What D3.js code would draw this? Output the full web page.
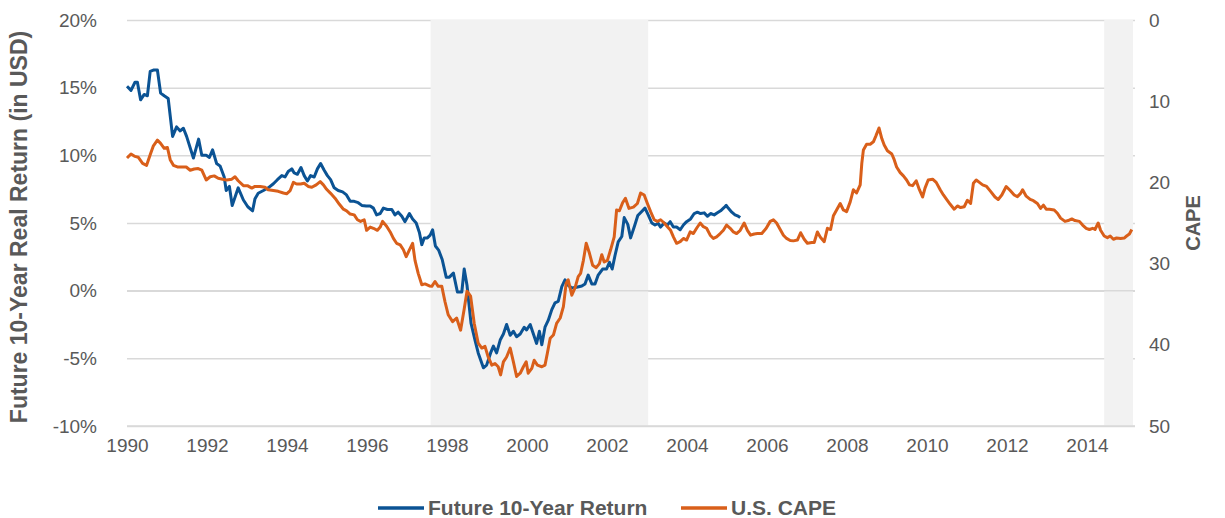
<!DOCTYPE html>
<html>
<head>
<meta charset="utf-8">
<script src="https://cdn.jsdelivr.net/npm/d3@7"></script>
<style>
  body { margin: 0; background: #fff; }
  svg { display: block; font-family: "Liberation Sans", Arial, sans-serif; }
</style>
</head>
<body>
<div id="chart"></div>
<script>
// Future 10-year real return (%), [year, value]
const returnSeries = [
  [1990.00, 15.1], [1990.10, 14.8], [1990.20, 15.4], [1990.26, 15.4], [1990.34, 14.1],
  [1990.43, 14.5], [1990.51, 14.4], [1990.58, 16.2], [1990.66, 16.3], [1990.76, 16.3],
  [1990.84, 14.6], [1990.93, 14.4], [1991.03, 14.2], [1991.14, 11.4], [1991.24, 12.1],
  [1991.33, 11.8], [1991.41, 12.0], [1991.49, 11.4], [1991.66, 9.8], [1991.79, 11.2],
  [1991.87, 10.0], [1991.98, 10.0], [1992.06, 9.85], [1992.14, 10.4], [1992.24, 9.4],
  [1992.33, 9.2], [1992.43, 8.4], [1992.48, 7.4], [1992.56, 7.7], [1992.63, 6.3],
  [1992.70, 6.9], [1992.78, 7.6], [1992.91, 6.7], [1993.02, 6.2], [1993.14, 5.9],
  [1993.20, 6.8], [1993.28, 7.2], [1993.41, 7.4], [1993.53, 7.6], [1993.66, 7.9],
  [1993.76, 8.2], [1993.87, 8.5], [1993.95, 8.4], [1994.03, 8.8], [1994.12, 9.0],
  [1994.18, 8.7], [1994.26, 8.6], [1994.35, 9.1], [1994.43, 8.5], [1994.51, 8.1],
  [1994.59, 8.5], [1994.68, 8.4], [1994.76, 9.0], [1994.84, 9.4], [1994.93, 8.9],
  [1995.01, 8.5], [1995.09, 8.2], [1995.18, 7.6], [1995.28, 7.4], [1995.39, 7.3],
  [1995.48, 7.1], [1995.58, 6.6], [1995.68, 6.6], [1995.78, 6.5], [1995.87, 6.3],
  [1995.98, 6.25], [1996.08, 6.25], [1996.16, 6.1], [1996.24, 5.6], [1996.33, 5.7],
  [1996.41, 6.1], [1996.51, 6.0], [1996.62, 6.0], [1996.70, 5.6], [1996.78, 5.8],
  [1996.87, 5.5], [1996.95, 5.1], [1997.06, 5.7], [1997.14, 5.3], [1997.23, 5.0],
  [1997.31, 4.3], [1997.37, 3.4], [1997.43, 3.9], [1997.51, 3.9], [1997.58, 4.1],
  [1997.64, 4.5], [1997.71, 3.3], [1997.79, 3.0], [1997.88, 2.3], [1997.98, 1.0],
  [1998.06, 1.0], [1998.16, 1.3], [1998.26, -0.1], [1998.37, -0.1], [1998.43, 1.6],
  [1998.50, 0.4], [1998.60, -2.4], [1998.70, -3.65], [1998.78, -4.6], [1998.91, -5.7],
  [1998.99, -5.5], [1999.09, -4.6], [1999.16, -4.1], [1999.24, -4.6], [1999.33, -3.65],
  [1999.41, -3.2], [1999.49, -2.5], [1999.58, -3.3], [1999.66, -3.0], [1999.74, -3.4],
  [1999.83, -3.2], [1999.93, -2.7], [1999.99, -2.9], [2000.08, -2.5], [2000.16, -3.2],
  [2000.24, -3.9], [2000.31, -3.0], [2000.37, -4.0], [2000.45, -2.7], [2000.53, -2.2],
  [2000.62, -1.4], [2000.70, -0.9], [2000.78, -0.8], [2000.87, 0.3], [2000.95, 0.8],
  [2001.03, 0.4], [2001.12, 0.2], [2001.24, 0.25], [2001.37, 0.35], [2001.45, 0.5],
  [2001.53, 1.15], [2001.62, 0.5], [2001.70, 0.5], [2001.78, 1.15], [2001.89, 1.6],
  [2001.99, 1.6], [2002.06, 2.1], [2002.13, 1.6], [2002.20, 2.6], [2002.28, 3.6],
  [2002.37, 4.0], [2002.43, 5.4], [2002.52, 4.9], [2002.59, 3.9], [2002.69, 4.8],
  [2002.77, 5.55], [2002.85, 5.8], [2002.95, 6.1], [2003.03, 5.6], [2003.12, 5.0],
  [2003.20, 4.85], [2003.28, 4.97], [2003.34, 4.7], [2003.43, 5.0], [2003.51, 4.85],
  [2003.58, 5.1], [2003.66, 4.7], [2003.74, 4.7], [2003.83, 4.5], [2003.91, 4.85],
  [2003.99, 5.1], [2004.09, 5.3], [2004.18, 5.7], [2004.26, 5.8], [2004.34, 5.7],
  [2004.43, 5.75], [2004.51, 5.5], [2004.59, 5.7], [2004.68, 5.6], [2004.76, 5.75],
  [2004.84, 5.9], [2004.93, 6.15], [2004.98, 6.3], [2005.03, 6.1], [2005.12, 5.8],
  [2005.20, 5.6], [2005.28, 5.5], [2005.33, 5.4]
];

// U.S. CAPE ratio, [year, value]
const capeSeries = [
  [1990.00, 17.0], [1990.10, 16.5], [1990.20, 16.8], [1990.28, 16.9], [1990.39, 17.65],
  [1990.49, 17.9], [1990.58, 16.6], [1990.66, 15.5], [1990.76, 14.8], [1990.84, 15.2],
  [1990.93, 15.8], [1991.01, 15.7], [1991.08, 17.2], [1991.16, 17.9], [1991.26, 18.1],
  [1991.37, 18.1], [1991.48, 18.1], [1991.58, 18.5], [1991.68, 18.35], [1991.78, 18.3],
  [1991.87, 18.5], [1991.98, 19.7], [1992.08, 19.3], [1992.18, 19.2], [1992.28, 19.5],
  [1992.39, 19.6], [1992.49, 19.7], [1992.62, 19.6], [1992.70, 19.3], [1992.78, 19.8],
  [1992.91, 20.4], [1993.01, 20.4], [1993.12, 20.7], [1993.20, 20.5], [1993.33, 20.5],
  [1993.45, 20.6], [1993.53, 20.9], [1993.66, 21.0], [1993.78, 21.1], [1993.91, 21.3],
  [1993.99, 21.4], [1994.08, 21.0], [1994.16, 20.0], [1994.24, 20.2], [1994.34, 20.2],
  [1994.43, 20.1], [1994.53, 20.5], [1994.62, 20.6], [1994.73, 20.3], [1994.83, 19.9],
  [1994.91, 20.3], [1994.99, 20.85], [1995.09, 21.35], [1995.20, 21.95], [1995.31, 22.7],
  [1995.41, 23.3], [1995.49, 23.5], [1995.58, 23.9], [1995.68, 24.0], [1995.76, 24.6],
  [1995.84, 24.8], [1995.93, 24.6], [1995.99, 25.9], [1996.08, 25.5], [1996.16, 25.65],
  [1996.26, 25.9], [1996.33, 25.5], [1996.39, 24.8], [1996.49, 25.4], [1996.58, 26.1],
  [1996.66, 26.9], [1996.74, 27.5], [1996.83, 27.7], [1996.91, 28.3], [1996.98, 29.15],
  [1997.06, 28.3], [1997.14, 27.5], [1997.20, 29.6], [1997.28, 31.2], [1997.37, 32.6],
  [1997.45, 32.5], [1997.56, 32.75], [1997.62, 32.8], [1997.70, 32.2], [1997.78, 32.8],
  [1997.87, 32.8], [1997.95, 34.7], [1998.03, 36.3], [1998.14, 37.15], [1998.24, 36.7],
  [1998.34, 38.2], [1998.43, 35.6], [1998.50, 33.4], [1998.59, 34.0], [1998.68, 37.35],
  [1998.78, 39.8], [1998.87, 40.4], [1998.95, 40.2], [1999.03, 41.5], [1999.12, 42.5],
  [1999.20, 42.3], [1999.28, 42.7], [1999.34, 43.7], [1999.41, 42.1], [1999.49, 41.5],
  [1999.58, 40.4], [1999.66, 42.1], [1999.74, 43.9], [1999.83, 43.5], [1999.91, 42.7],
  [1999.98, 42.1], [2000.03, 43.5], [2000.12, 42.9], [2000.18, 41.9], [2000.26, 42.5],
  [2000.37, 42.7], [2000.45, 42.5], [2000.51, 41.0], [2000.58, 39.2], [2000.66, 38.8],
  [2000.74, 37.35], [2000.83, 36.7], [2000.91, 35.3], [2000.98, 32.4], [2001.03, 32.0],
  [2001.12, 33.9], [2001.20, 33.0], [2001.28, 31.6], [2001.34, 31.2], [2001.41, 29.6],
  [2001.48, 27.5], [2001.56, 28.7], [2001.64, 30.2], [2001.73, 30.5], [2001.81, 30.0],
  [2001.87, 28.9], [2001.93, 29.8], [2002.01, 29.6], [2002.09, 28.3], [2002.18, 26.7],
  [2002.24, 23.4], [2002.31, 23.5], [2002.39, 22.5], [2002.46, 21.95], [2002.55, 23.2],
  [2002.66, 23.05], [2002.76, 22.6], [2002.84, 21.3], [2002.93, 21.55], [2003.01, 22.6],
  [2003.09, 23.6], [2003.18, 24.6], [2003.26, 24.8], [2003.34, 24.6], [2003.43, 25.0],
  [2003.51, 25.45], [2003.59, 25.9], [2003.66, 26.7], [2003.74, 27.5], [2003.83, 27.3],
  [2003.91, 26.9], [2003.99, 27.1], [2004.08, 26.1], [2004.16, 26.3], [2004.24, 25.65],
  [2004.33, 25.0], [2004.41, 25.45], [2004.49, 25.65], [2004.58, 26.5], [2004.66, 26.9],
  [2004.74, 26.7], [2004.83, 26.3], [2004.91, 25.9], [2004.99, 25.25], [2005.08, 25.65],
  [2005.16, 26.1], [2005.24, 26.3], [2005.33, 25.9], [2005.43, 25.0], [2005.51, 25.9],
  [2005.59, 26.5], [2005.68, 26.35], [2005.76, 26.3], [2005.87, 26.3], [2005.98, 25.65],
  [2006.08, 24.8], [2006.16, 24.6], [2006.24, 25.0], [2006.33, 25.8], [2006.41, 26.5],
  [2006.49, 26.9], [2006.58, 27.15], [2006.66, 27.2], [2006.76, 27.1], [2006.84, 26.2],
  [2006.93, 27.0], [2007.01, 27.5], [2007.12, 27.4], [2007.18, 27.4], [2007.26, 26.1],
  [2007.34, 26.8], [2007.43, 27.3], [2007.51, 25.65], [2007.59, 25.8], [2007.66, 24.1],
  [2007.74, 23.4], [2007.83, 22.6], [2007.91, 23.4], [2007.99, 23.6], [2008.08, 22.4],
  [2008.16, 20.9], [2008.24, 21.3], [2008.33, 20.3], [2008.37, 17.65], [2008.41, 16.0],
  [2008.49, 15.3], [2008.58, 15.3], [2008.66, 15.0], [2008.72, 14.3], [2008.80, 13.3],
  [2008.87, 14.6], [2008.93, 15.4], [2009.01, 16.1], [2009.12, 16.5], [2009.18, 17.2],
  [2009.24, 18.1], [2009.33, 18.8], [2009.41, 19.2], [2009.49, 19.7], [2009.56, 20.3],
  [2009.64, 20.4], [2009.73, 19.8], [2009.81, 20.9], [2009.89, 21.8], [2009.95, 20.7],
  [2010.03, 19.7], [2010.14, 19.6], [2010.23, 20.0], [2010.33, 20.9], [2010.41, 21.55],
  [2010.49, 22.1], [2010.58, 22.7], [2010.68, 23.3], [2010.76, 22.9], [2010.84, 23.1],
  [2010.93, 23.0], [2011.01, 22.2], [2011.09, 22.6], [2011.16, 20.1], [2011.23, 19.7],
  [2011.31, 20.0], [2011.39, 20.3], [2011.49, 20.5], [2011.59, 21.1], [2011.70, 21.8],
  [2011.78, 22.1], [2011.87, 21.55], [2011.98, 20.5], [2012.08, 21.0], [2012.18, 21.55],
  [2012.26, 21.75], [2012.34, 21.35], [2012.39, 20.9], [2012.48, 21.7], [2012.58, 22.1],
  [2012.66, 22.25], [2012.76, 22.6], [2012.84, 23.2], [2012.91, 22.8], [2012.98, 23.3],
  [2013.06, 23.3], [2013.18, 23.4], [2013.26, 23.8], [2013.34, 24.4], [2013.45, 24.8],
  [2013.53, 24.7], [2013.62, 24.5], [2013.70, 24.7], [2013.81, 24.8], [2013.89, 25.25],
  [2013.98, 25.65], [2014.06, 25.8], [2014.14, 25.65], [2014.20, 25.8], [2014.28, 25.0],
  [2014.34, 25.9], [2014.43, 26.6], [2014.51, 26.8], [2014.58, 26.6], [2014.66, 27.0],
  [2014.74, 26.85], [2014.84, 26.9], [2014.93, 26.85], [2014.99, 26.6], [2015.06, 26.35],
  [2015.12, 25.8]
];

// shaded periods [start, end]
const shadedPeriods = [[1997.59, 2003.03], [2014.43, 2015.15]];

const xTicks = d3.range(1990, 2015, 2);
const leftTicks = [-10, -5, 0, 5, 10, 15, 20];
const rightTicks = [0, 10, 20, 30, 40, 50];

const width = 1225;
const height = 518;
const plot = { left: 127, right: 1135, top: 20, bottom: 426 };
const blue = "#0b5394";
const orange = "#d95f1a";
const textColor = "#595959";
const font = "'Liberation Sans', Arial, sans-serif";

const svg = d3.select("#chart")
    .append("svg")
    .attr("width", width)
    .attr("height", height);

svg.append("rect").attr("width", width).attr("height", height).attr("fill", "#fff");

const x = d3.scaleLinear()
    .domain([1990, 2015.2])
    .range([plot.left, plot.right]);

const yLeft = d3.scaleLinear()
    .domain([-10, 20])
    .range([plot.bottom, plot.top]);

const yRight = d3.scaleLinear()
    .domain([0, 50])
    .range([plot.top, plot.bottom]);

// gridlines (under the shading)
svg.append("g")
    .attr("transform", `translate(${plot.left},0)`)
    .call(d3.axisLeft(yLeft).tickValues(leftTicks).tickSize(-(plot.right - plot.left)).tickFormat(""))
    .call(g => g.select(".domain").remove())
    .selectAll("line")
    .attr("stroke", "#d9d9d9")
    .attr("stroke-width", 1.5);

// shaded periods
svg.selectAll(".shade")
    .data(shadedPeriods)
    .enter()
    .append("rect")
    .attr("class", "shade")
    .attr("x", d => x(d[0]))
    .attr("width", d => x(d[1]) - x(d[0]))
    .attr("y", plot.top)
    .attr("height", plot.bottom - plot.top)
    .attr("fill", "#f2f2f2");

// zero line and bottom line drawn over the shading
svg.selectAll(".hline")
    .data([0, -10])
    .enter()
    .append("line")
    .attr("x1", plot.left)
    .attr("x2", plot.right)
    .attr("y1", d => yLeft(d))
    .attr("y2", d => yLeft(d))
    .attr("stroke", "#d9d9d9")
    .attr("stroke-width", 1.5);

// left axis labels
svg.append("g")
    .attr("transform", `translate(${plot.left},0)`)
    .call(d3.axisLeft(yLeft).tickValues(leftTicks).tickSize(0).tickPadding(30).tickFormat(d => d + "%"))
    .call(g => g.select(".domain").remove())
    .selectAll("text")
    .attr("fill", textColor)
    .style("font-size", "19px")
    .style("font-family", font);

// right axis labels
svg.append("g")
    .attr("transform", `translate(${plot.right},0)`)
    .call(d3.axisRight(yRight).tickValues(rightTicks).tickSize(0).tickPadding(14))
    .call(g => g.select(".domain").remove())
    .selectAll("text")
    .attr("fill", textColor)
    .style("font-size", "19px")
    .style("font-family", font);

// bottom axis labels
svg.append("g")
    .attr("transform", `translate(0,${plot.bottom})`)
    .call(d3.axisBottom(x).tickValues(xTicks).tickSize(0).tickPadding(13).tickFormat(d3.format("d")))
    .call(g => g.select(".domain").remove())
    .selectAll("text")
    .attr("fill", textColor)
    .style("font-size", "19px")
    .style("font-family", font);

// lines
const returnLine = d3.line()
    .x(d => x(d[0]))
    .y(d => yLeft(d[1]));

const capeLine = d3.line()
    .x(d => x(d[0]))
    .y(d => yRight(d[1]));

svg.append("path")
    .datum(returnSeries)
    .attr("d", returnLine)
    .attr("fill", "none")
    .attr("stroke", blue)
    .attr("stroke-width", 3)
    .attr("stroke-linejoin", "round");

svg.append("path")
    .datum(capeSeries)
    .attr("d", capeLine)
    .attr("fill", "none")
    .attr("stroke", orange)
    .attr("stroke-width", 3)
    .attr("stroke-linejoin", "round");

// axis titles
svg.append("text")
    .attr("transform", `translate(27,${(plot.top + plot.bottom) / 2 + 4}) rotate(-90)`)
    .attr("text-anchor", "middle")
    .attr("fill", textColor)
    .attr("font-size", "23px")
    .attr("font-weight", "bold")
    .text("Future 10-Year Real Return (in USD)");

svg.append("text")
    .attr("transform", `translate(1200,${(plot.top + plot.bottom) / 2}) rotate(-90)`)
    .attr("text-anchor", "middle")
    .attr("fill", textColor)
    .attr("font-size", "20px")
    .attr("font-weight", "bold")
    .text("CAPE");

// legend
const legendItems = [
    { label: "Future 10-Year Return", color: blue, x: 378 },
    { label: "U.S. CAPE", color: orange, x: 681 }
];

const legend = svg.selectAll(".legend")
    .data(legendItems)
    .enter()
    .append("g")
    .attr("class", "legend")
    .attr("transform", d => `translate(${d.x},508)`);

legend.append("line")
    .attr("x1", 0)
    .attr("x2", 46)
    .attr("stroke", d => d.color)
    .attr("stroke-width", 3.5);

legend.append("text")
    .attr("x", 50)
    .attr("dy", "0.35em")
    .attr("fill", textColor)
    .attr("font-size", "21px")
    .attr("font-weight", "bold")
    .text(d => d.label);
</script>
</body>
</html>
